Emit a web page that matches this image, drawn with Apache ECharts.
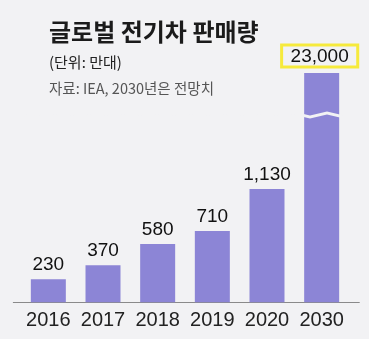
<!DOCTYPE html>
<html>
<head>
<meta charset="utf-8">
<script src="https://cdn.jsdelivr.net/npm/echarts@6/dist/echarts.min.js"></script>
<style>
  html, body { margin: 0; padding: 0; background: #f2f2f4; }
  #chart { width: 369px; height: 339px; }
</style>
</head>
<body>
<div id="chart"></div>
<script>
// Global EV sales (unit: 10k vehicles); 2030 is a forecast
const years = ['2016', '2017', '2018', '2019', '2020', '2030'];
const sales = [230, 370, 580, 710, 1130, 23000];
const forecastYear = '2030';

// value-axis break so the 2030 bar fits next to the others
const salesBreak = { start: 1850, end: 22600, gap: 35 };

const BG = '#f2f2f4';
const BAR = '#8c85d6';
const HIGHLIGHT = '#f6ea3c';

const barData = years.map((y, i) => {
  const item = { value: sales[i] };
  if (y === forecastYear) {
    item.label = {
      borderColor: HIGHLIGHT,
      borderWidth: 3,
      padding: [2, 9, 1, 9],
      distance: 6,
      offset: [-2, 0]
    };
  }
  return item;
});

const chart = echarts.init(document.getElementById('chart'), null, { renderer: 'canvas' });

chart.setOption({
  backgroundColor: BG,
  animation: false,
  title: [
    {
      text: '글로벌 전기차 판매량',
      left: 49, top: 18, padding: 0,
      textStyle: { fontFamily: 'Noto Sans CJK KR', fontSize: 24, fontWeight: 'bold', color: '#1b1b1b', lineHeight: 28 }
    },
    {
      text: '(단위: 만대)',
      left: 49, top: 53, padding: 0,
      textStyle: { fontFamily: 'Noto Sans CJK KR', fontSize: 15, fontWeight: 'normal', color: '#222', lineHeight: 19 }
    },
    {
      text: '자료: IEA, 2030년은 전망치',
      left: 49, top: 79, padding: 0,
      textStyle: { fontFamily: 'Noto Sans CJK KR', fontSize: 14.5, fontWeight: 'normal', color: '#555', lineHeight: 18 }
    }
  ],
  grid: [
    { left: 21, right: 20, top: 73, bottom: 36.7 },
    { left: 13.3, right: 9.7, top: 73, bottom: 36.7 }
  ],
  xAxis: [
    {
      type: 'category',
      gridIndex: 0,
      data: years,
      axisLine: { show: false },
      axisTick: { show: false },
      axisLabel: {
        interval: 0,
        margin: 8,
        fontFamily: 'Liberation Sans Narrow, Liberation Sans, sans-serif',
        fontSize: 20,
        color: '#222'
      }
    },
    {
      type: 'value',
      gridIndex: 1,
      min: 0, max: 1,
      axisLine: { show: true, lineStyle: { color: '#8a8a8a', width: 1 } },
      axisTick: { show: false },
      axisLabel: { show: false },
      splitLine: { show: false }
    }
  ],
  yAxis: [
    {
      type: 'value',
      gridIndex: 0,
      min: 0,
      max: 23000,
      breaks: [salesBreak],
      breakArea: {
        show: true,
        itemStyle: { color: BG, borderColor: 'rgba(0,0,0,0)', borderWidth: 0, opacity: 1 },
        zigzagAmplitude: 2,
        zigzagMinSpan: 17,
        zigzagMaxSpan: 17,
        zigzagZ: 100,
        expandOnClick: false
      },
      axisLine: { show: false },
      axisTick: { show: false },
      axisLabel: { show: false },
      splitLine: { show: false }
    },
    {
      type: 'value',
      gridIndex: 1,
      min: 0, max: 1,
      show: false
    }
  ],
  series: [
    {
      type: 'bar',
      xAxisIndex: 0,
      yAxisIndex: 0,
      data: barData,
      barWidth: 35,
      itemStyle: { color: BAR },
      label: {
        show: true,
        position: 'top',
        distance: 5,
        fontFamily: 'Liberation Sans, Arial, sans-serif',
        fontSize: 19,
        color: '#111',
        formatter: p => p.value.toLocaleString('en-US')
      }
    }
  ]
});
</script>
</body>
</html>
